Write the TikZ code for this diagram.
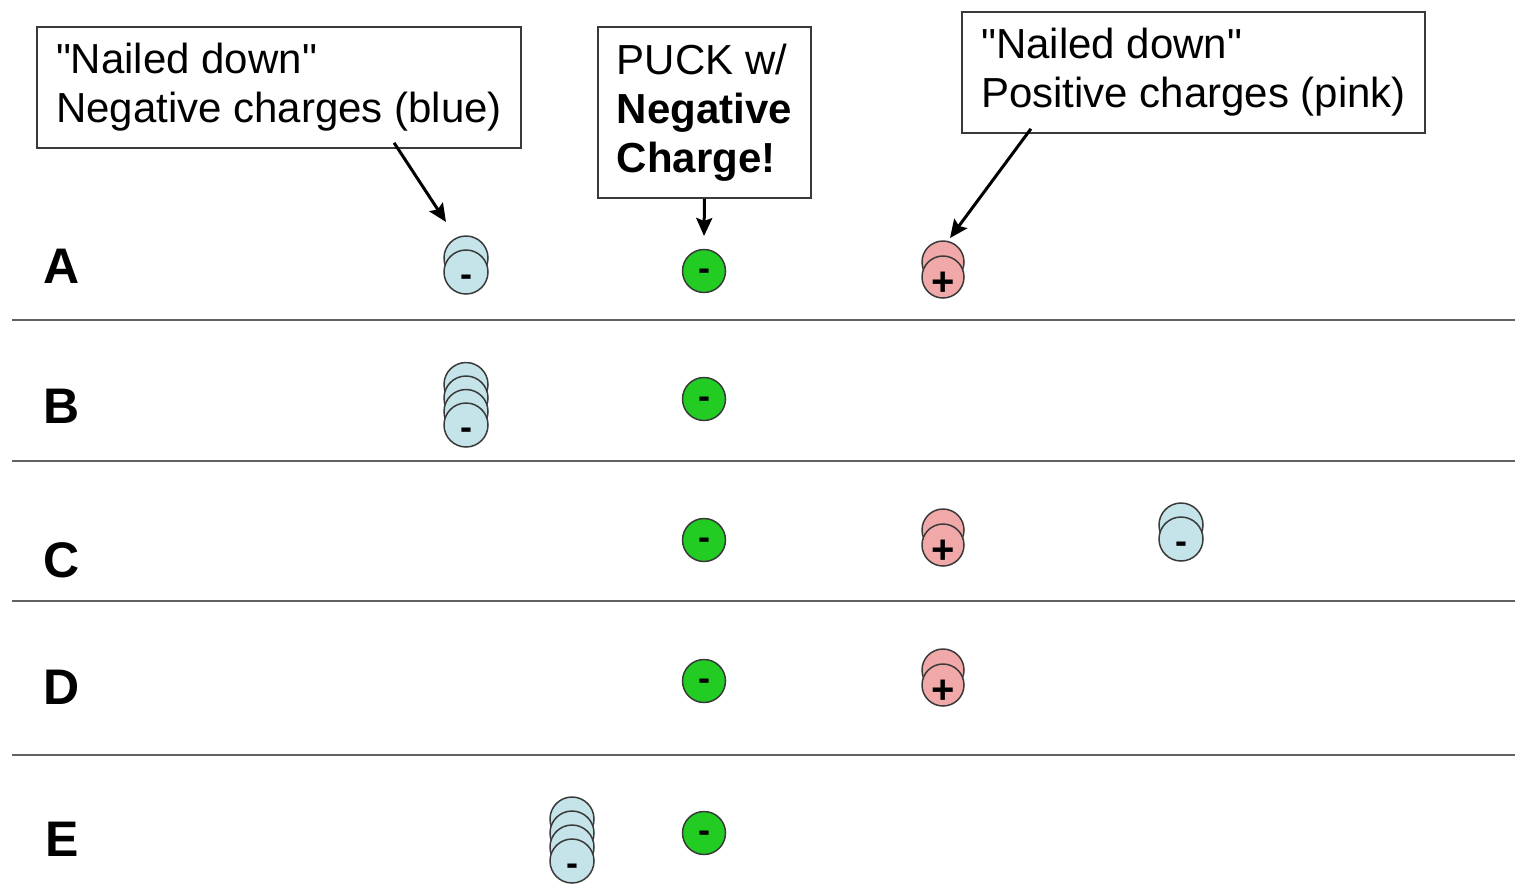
\documentclass[tikz,border=0pt]{standalone}
\usepackage{fontspec}
\setmainfont{Liberation Sans}
\usetikzlibrary{arrows.meta,calc}
\definecolor{negblue}{HTML}{C4E4EA}
\definecolor{pospink}{HTML}{F0A8A8}
\definecolor{puckgreen}{HTML}{22CC22}
\definecolor{edgegray}{HTML}{3A3A3A}
\newcommand\chargestack[8]{%
  \foreach \k in {#4,...,2}{\node[#5] (#1-\k) at (#2,{#3-(\k-1)*#7}) {};}
  \node[#5] (#1) at (#2,#3) {};
  \node[#6] (#1-s) at (#1) {#8};
}
\begin{document}
\begin{tikzpicture}[x=1pt,y=-1pt,
  labelbox/.style={draw=edgegray, line width=1.6pt, fill=white, align=left,
    font=\fontsize{42}{49}\selectfont, inner sep=0pt},
  chg/.style={circle, draw=edgegray, line width=1.5pt, minimum size=44pt, inner sep=0pt},
  negc/.style={chg, fill=negblue},
  posc/.style={chg, fill=pospink, minimum size=42pt},
  puckc/.style={chg, fill=puckgreen, minimum size=43pt},
  pucksign/.style={inner sep=0pt, anchor=base, yshift=-9pt,
    font=\fontsize{36}{36}\selectfont\bfseries},
  minussign/.style={inner sep=0pt, anchor=base, yshift=-14pt,
    font=\fontsize{36}{36}\selectfont\bfseries},
  plussign/.style={inner sep=0pt, anchor=base, yshift=-18pt,
    font=\fontsize{40}{40}\selectfont\bfseries},
  rowlabel/.style={font=\fontsize{50}{50}\selectfont\bfseries, inner sep=0pt},
  rowline/.style={draw=edgegray!80, line width=2pt},
  arr/.style={line width=3pt, -{Stealth[length=18pt,width=16pt,inset=3pt]}}
]
\useasboundingbox (0,0) rectangle (1515,887);

% separator lines
\coordinate (l1a) at (12,320); \coordinate (l1b) at (1515,320);
\coordinate (l2a) at (12,461); \coordinate (l2b) at (1515,461);
\coordinate (l3a) at (12,601); \coordinate (l3b) at (1515,601);
\coordinate (l4a) at (12,755); \coordinate (l4b) at (1515,755);
\draw[rowline] (l1a) -- (l1b);
\draw[rowline] (l2a) -- (l2b);
\draw[rowline] (l3a) -- (l3b);
\draw[rowline] (l4a) -- (l4b);

% row labels
\node[rowlabel] (rA) at (62,266) {A};
\node[rowlabel] (rB) at (62,406) {B};
\node[rowlabel] (rC) at (62,560) {C};
\node[rowlabel] (rD) at (62,687) {D};
\node[rowlabel] (rE) at (62,839) {E};

% label boxes
\node[labelbox, minimum width=484pt, minimum height=121pt] (box1) at (279,87.5)
  {\textquotedbl Nailed down\textquotedbl\\Negative charges (blue)};
\node[labelbox, minimum width=213pt, minimum height=171pt] (box2) at (704.5,112.5)
  {PUCK w/\\\textbf{Negative}\\\textbf{Charge!}};
\node[labelbox, minimum width=463pt, minimum height=121pt] (box3) at (1193.5,72.5)
  {\textquotedbl Nailed down\textquotedbl\\Positive charges (pink)};

% pucks (green, negative)
\foreach \n/\yy in {A/271,B/399,C/540,D/681,E/833}{
  \node[puckc] (p\n) at (704,\yy) {};
  \node[pucksign] (p\n-s) at (p\n) {-};
}

% nailed-down negative charges (blue)
\chargestack{bA}{466}{272}{2}{negc}{minussign}{14}{-}
\chargestack{bB}{466}{425}{4}{negc}{minussign}{13.5}{-}
\chargestack{bC}{1181}{539}{2}{negc}{minussign}{14}{-}
\chargestack{bE}{572}{861}{4}{negc}{minussign}{14}{-}

% nailed-down positive charges (pink)
\chargestack{kA}{943}{277}{2}{posc}{plussign}{15}{+}
\chargestack{kC}{943}{545}{2}{posc}{plussign}{15}{+}
\chargestack{kD}{943}{685}{2}{posc}{plussign}{15}{+}

% arrows
\coordinate (t1) at (446,222);
\coordinate (t2) at (704,236);
\coordinate (t3) at (950,238);
\draw[arr] ($(box1.south west)!0.737!(box1.south east)+(0,-6)$) -- (t1);
\draw[arr] (box2.south) -- (t2);
\draw[arr] ($(box3.south west)!0.15!(box3.south east)+(0,-5)$) -- (t3);
\end{tikzpicture}
\end{document}
